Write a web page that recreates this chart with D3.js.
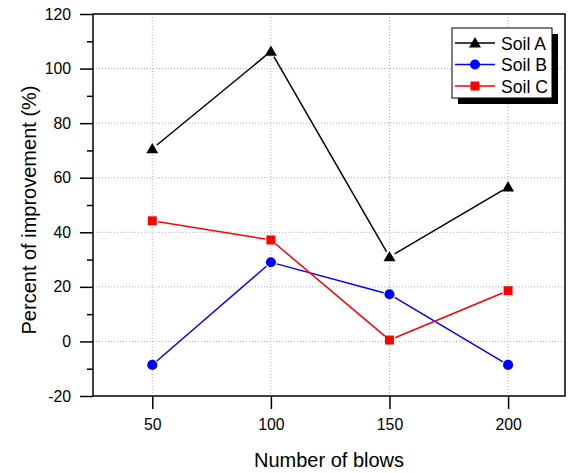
<!DOCTYPE html>
<html>
<head>
<meta charset="utf-8">
<script src="https://cdn.jsdelivr.net/npm/d3@7"></script>
<style>
  body { margin: 0; background: #fff; }
  svg { display: block; font-family: "Liberation Sans", Arial, sans-serif; }
</style>
</head>
<body>
<div id="chart"></div>
<script>
const blows = [50, 100, 150, 200];
const soilA = [70.6, 106.3, 31.0, 56.6];
const soilB = [-8.6, 29.0, 17.3, -8.6];
const soilC = [44.2, 37.2, 0.5, 18.6];
const yTicks = [-20, 0, 20, 40, 60, 80, 100, 120];
const seriesNames = ["Soil A", "Soil B", "Soil C"];

const width = 568, height = 473;
const margin = { left: 93, top: 14, right: 3, bottom: 77 };
const svg = d3.select("#chart").append("svg").attr("width", width).attr("height", height);

const x = d3.scaleLinear().domain([25, 224]).range([margin.left, width - margin.right]);
const y = d3.scaleLinear().domain([-20, 120]).range([height - margin.bottom, margin.top]);

const x0 = margin.left, x1 = width - margin.right, y0 = height - margin.bottom, y1 = margin.top;

// grid
const grid = svg.append("g").attr("stroke", "#b0b0b0").attr("stroke-width", 1).attr("stroke-dasharray", "1,2");
grid.selectAll("line.gx").data(blows).join("line").attr("class", "gx")
  .attr("x1", d => x(d)).attr("x2", d => x(d)).attr("y1", y0).attr("y2", y1);
grid.selectAll("line.gy").data(yTicks.filter(d => d > -20 && d < 120)).join("line").attr("class", "gy")
  .attr("y1", d => y(d)).attr("y2", d => y(d)).attr("x1", x0).attr("x2", x1);

// axes
const yAxis = d3.axisLeft(y).tickValues(yTicks).tickSize(13).tickPadding(9).tickFormat(d => String(d));
const yG = svg.append("g").attr("transform", `translate(${x0},0)`).call(yAxis);
const yMinor = d3.axisLeft(y).tickValues(d3.range(-10, 120, 20)).tickSize(6).tickFormat("");
const yMg = svg.append("g").attr("transform", `translate(${x0},0)`).call(yMinor);
const xAxis = d3.axisBottom(x).tickValues(blows).tickSize(13).tickPadding(10).tickFormat(d => String(d));
const xG = svg.append("g").attr("transform", `translate(0,${y0})`).call(xAxis);
[yG, yMg, xG].forEach(g => {
  g.select(".domain").remove();
  g.selectAll(".tick line").attr("stroke", "#000").attr("stroke-width", 1.5);
  g.selectAll(".tick text").attr("font-size", 15.8).attr("fill", "#000")
    .attr("font-family", "'Liberation Sans', Arial, sans-serif");
});

svg.append("rect").attr("x", x0).attr("y", y1).attr("width", x1 - x0).attr("height", y0 - y1)
  .attr("fill", "none").attr("stroke", "#000").attr("stroke-width", 1.5);

// axis titles
svg.append("text").attr("x", 329).attr("y", 467).attr("text-anchor", "middle")
  .attr("font-size", 20).text("Number of blows");
svg.append("text").attr("transform", `translate(36,210) rotate(-90)`).attr("text-anchor", "middle")
  .attr("font-size", 20).text("Percent of improvement (%)");

const series = [
  { name: seriesNames[0], values: soilA, color: "#000000", shape: d3.symbolTriangle, size: 62 },
  { name: seriesNames[1], values: soilB, color: "#0000ff", shape: d3.symbolCircle, size: 80 },
  { name: seriesNames[2], values: soilC, color: "#ff0000", shape: d3.symbolSquare, size: 81 }
];

const gap = 6;

// lines with small gaps near markers
series.forEach(s => {
  const g = svg.append("g");
  for (let i = 0; i < s.values.length - 1; i++) {
    const ax = x(blows[i]), ay = y(s.values[i]);
    const bx = x(blows[i + 1]), by = y(s.values[i + 1]);
    const len = Math.hypot(bx - ax, by - ay);
    const ux = (bx - ax) / len, uy = (by - ay) / len;
    g.append("line").attr("x1", ax + ux * gap).attr("y1", ay + uy * gap)
      .attr("x2", bx - ux * gap).attr("y2", by - uy * gap)
      .attr("stroke", s.color).attr("stroke-width", 1.5);
  }
  g.selectAll("path.m").data(s.values).join("path").attr("class", "m")
    .attr("d", d3.symbol().type(s.shape).size(s.size))
    .attr("transform", (d, i) => `translate(${x(blows[i])},${y(d) + (s.shape === d3.symbolTriangle ? 1 : 0)})`)
    .attr("fill", s.color);
});

// legend
const lg = svg.append("g").attr("transform", "translate(452,28)");
lg.append("rect").attr("x", 6).attr("y", 6).attr("width", 100).attr("height", 70).attr("fill", "#000");
lg.append("rect").attr("x", 0).attr("y", 0).attr("width", 100).attr("height", 70)
  .attr("fill", "#fff").attr("stroke", "#000").attr("stroke-width", 1);
series.forEach((s, i) => {
  const yy = 15 + i * 21.5;
  lg.append("line").attr("x1", 3).attr("x2", 43).attr("y1", yy).attr("y2", yy)
    .attr("stroke", s.color).attr("stroke-width", 1.5);
  lg.append("path").attr("d", d3.symbol().type(s.shape).size(s.size)())
    .attr("transform", `translate(23,${yy + (s.shape === d3.symbolTriangle ? 1 : 0)})`).attr("fill", s.color);
  lg.append("text").attr("x", 49).attr("y", yy + 6.5).attr("font-size", 17.6).text(s.name);
});
</script>
</body>
</html>
